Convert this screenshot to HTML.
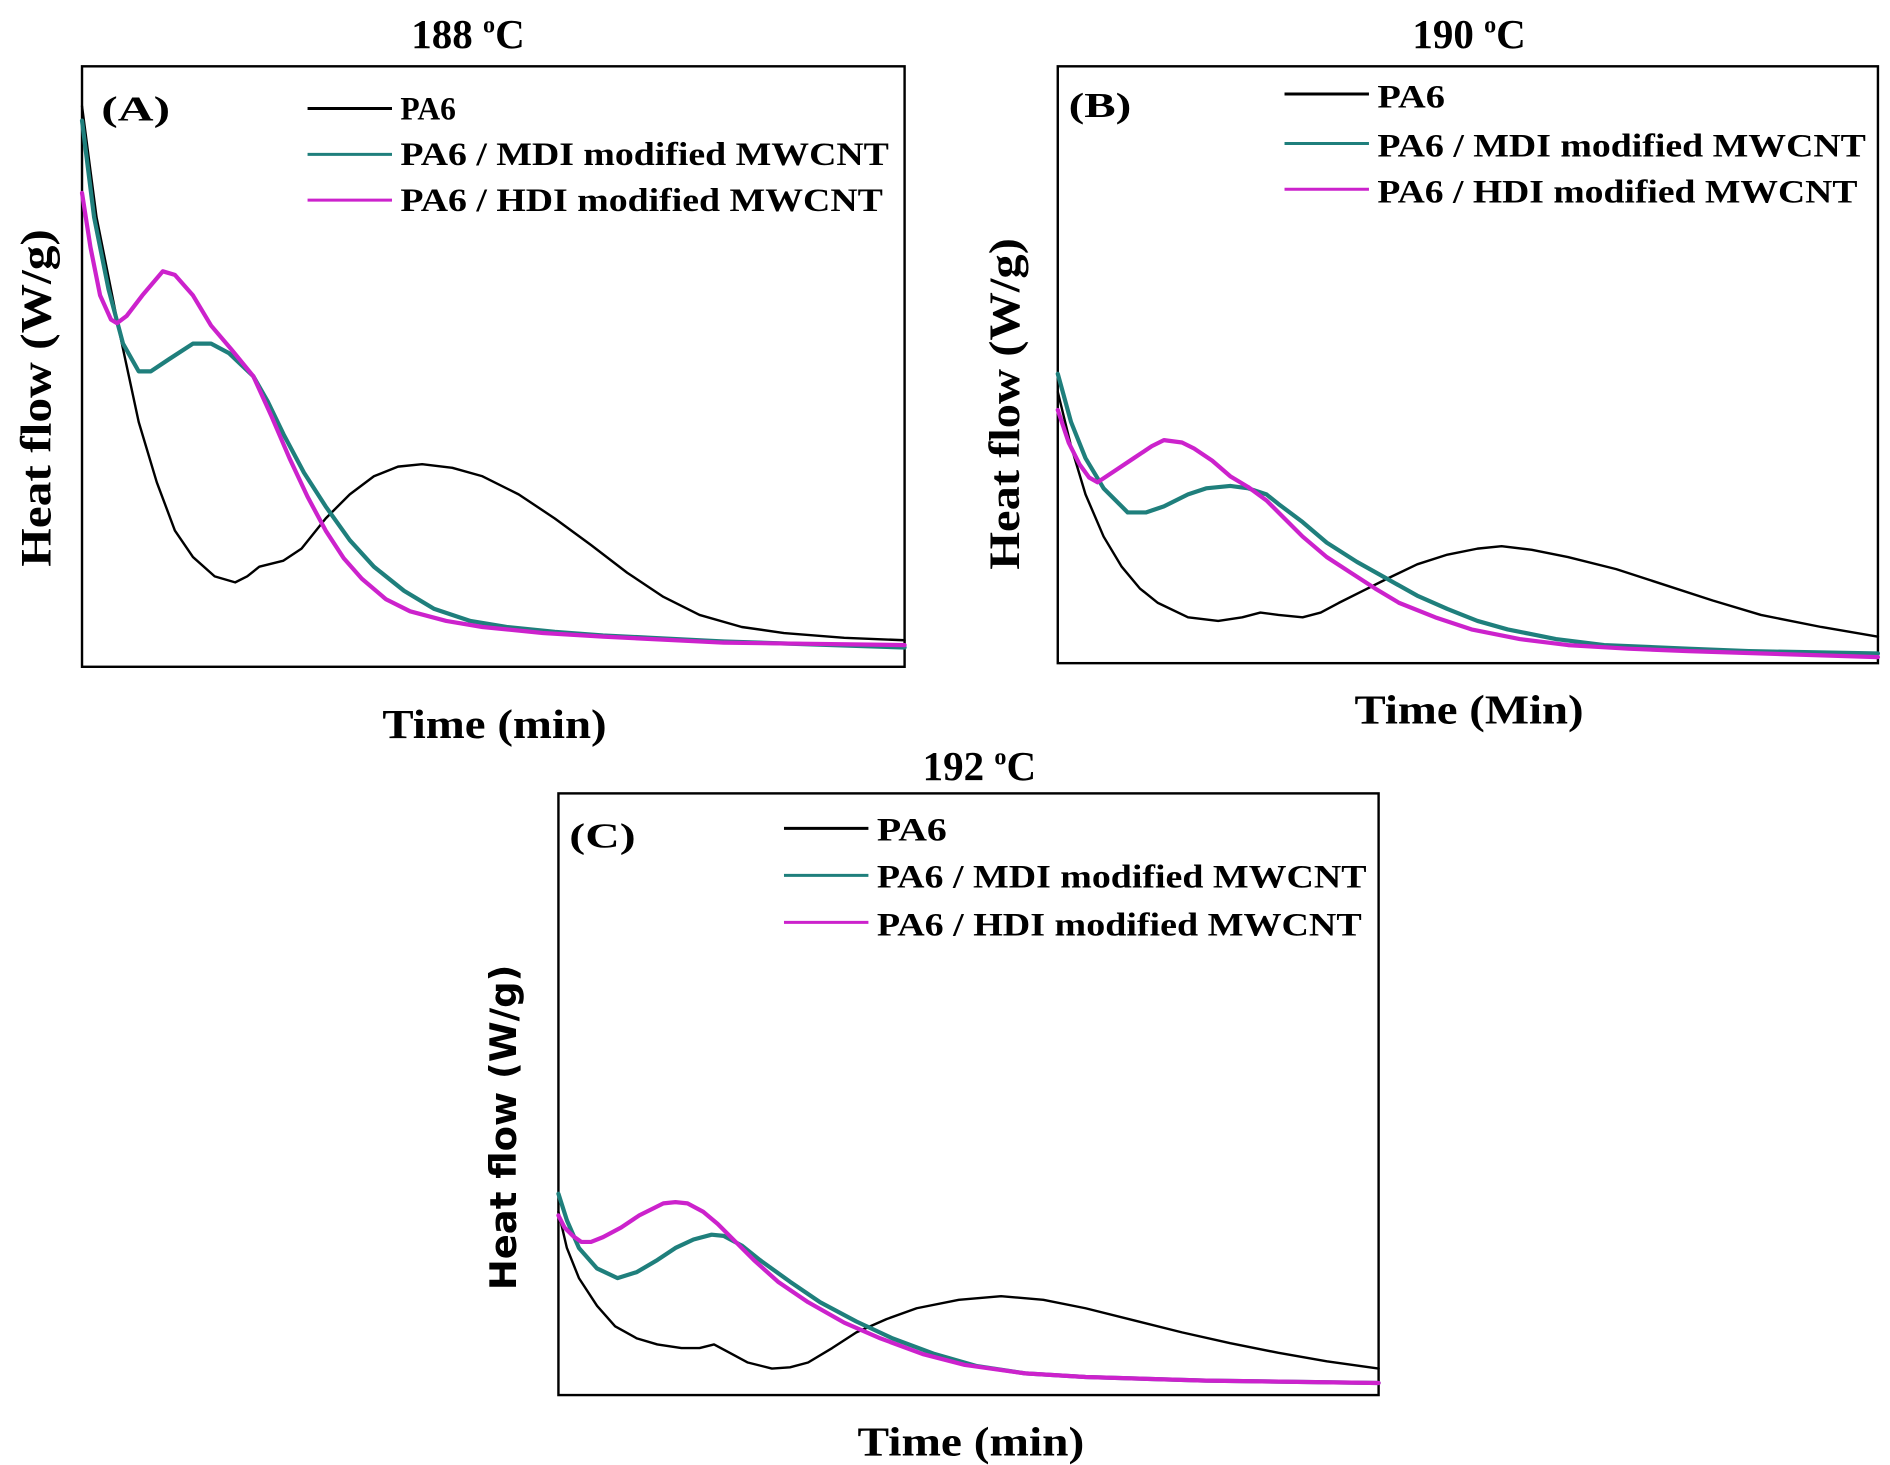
<!DOCTYPE html>
<html><head><style>html,body{margin:0;padding:0;background:#fff}svg{display:block}</style></head>
<body>
<svg width="1890" height="1465" viewBox="0 0 1567 1215" preserveAspectRatio="none" xmlns="http://www.w3.org/2000/svg" font-family="Liberation Serif, serif" font-weight="bold">
<g fill="none" stroke-width="2">
<rect x="68" y="55" width="682" height="498" stroke="#000"/>
<rect x="877" y="55" width="680" height="495" stroke="#000"/>
<rect x="463" y="658" width="680" height="499" stroke="#000"/>
</g>
<g fill="none" stroke-linejoin="round" stroke-linecap="round">
<polyline stroke="#000" stroke-width="2" points="68,88 80,180 100,280 115,350 130,400 145,440 160,462 178,478 195,483 205,478 215,470 235,465 250,455 270,430 290,410 310,395 330,387 350,385 375,388 400,395 430,410 460,430 490,452 520,475 550,495 580,510 615,520 650,525 700,529 750,531"/>
<polyline stroke="#1f7f7c" stroke-width="3.5" points="68,100 78,180 90,240 102,285 115,308 125,308 140,298 160,285 175,285 190,293 210,312 222,333 235,360 252,392 270,420 290,448 310,470 335,490 360,505 390,515 420,520 460,524 500,527 600,532 750,537"/>
<polyline stroke="#cc22cc" stroke-width="3.5" points="68,160 75,205 83,245 92,265 97,268 105,262 118,245 135,225 145,228 160,245 175,270 192,290 210,312 225,345 240,380 255,412 270,440 285,463 300,480 320,497 340,507 370,515 400,520 450,525 500,528 600,533 750,535"/>
<polyline stroke="#000" stroke-width="2" points="877,325 888,370 900,410 915,445 930,470 945,488 960,500 985,512 1010,515 1030,512 1045,508 1060,510 1080,512 1095,508 1110,500 1130,490 1150,480 1175,468 1200,460 1225,455 1245,453 1270,456 1300,462 1340,472 1380,485 1420,498 1460,510 1510,520 1557,528"/>
<polyline stroke="#1f7f7c" stroke-width="3.5" points="877,310 888,350 900,380 915,405 935,425 950,425 965,420 985,410 1000,405 1020,403 1035,405 1050,410 1060,418 1080,433 1100,450 1125,466 1150,480 1175,494 1200,505 1225,515 1250,522 1290,530 1330,535 1400,538 1450,540 1557,542"/>
<polyline stroke="#cc22cc" stroke-width="3.5" points="877,340 886,367 895,385 903,396 910,400 925,390 940,380 955,370 965,365 980,367 990,372 1005,382 1020,395 1035,404 1050,415 1065,430 1080,445 1100,462 1120,475 1140,488 1160,500 1190,512 1220,522 1260,530 1300,535 1350,538 1400,540 1557,545"/>
<polyline stroke="#000" stroke-width="2" points="463,1005 470,1035 480,1060 495,1083 510,1100 528,1110 545,1115 565,1118 580,1118 592,1115 605,1122 620,1130 640,1135 655,1134 670,1130 690,1118 710,1105 735,1094 760,1085 795,1078 830,1075 865,1078 900,1085 940,1095 980,1105 1020,1114 1060,1122 1100,1129 1143,1135"/>
<polyline stroke="#1f7f7c" stroke-width="3.5" points="463,990 470,1012 480,1035 495,1052 512,1060 528,1055 545,1045 560,1035 575,1028 590,1024 600,1025 615,1033 630,1045 655,1063 680,1080 710,1096 740,1110 775,1123 810,1133 850,1139 900,1142 1000,1145 1143,1147"/>
<polyline stroke="#cc22cc" stroke-width="3.5" points="463,1008 468,1018 475,1025 482,1030 490,1030 500,1026 515,1018 530,1008 550,998 560,997 570,998 583,1005 595,1015 610,1030 625,1045 645,1063 670,1080 700,1097 730,1110 765,1123 800,1132 850,1139 900,1142 1000,1145 1143,1147"/>
</g>
<g stroke-width="2.5">
<line x1="255" y1="90" x2="325" y2="90" stroke="#000"/>
<line x1="255" y1="128" x2="325" y2="128" stroke="#1f7f7c"/>
<line x1="255" y1="166" x2="325" y2="166" stroke="#cc22cc"/>
<line x1="1065" y1="78" x2="1135" y2="78" stroke="#000"/>
<line x1="1065" y1="119" x2="1135" y2="119" stroke="#1f7f7c"/>
<line x1="1065" y1="157" x2="1135" y2="157" stroke="#cc22cc"/>
<line x1="650" y1="687" x2="720" y2="687" stroke="#000"/>
<line x1="650" y1="726" x2="720" y2="726" stroke="#1f7f7c"/>
<line x1="650" y1="765" x2="720" y2="765" stroke="#cc22cc"/>
</g>
<g font-size="27" fill="#000" lengthAdjust="spacingAndGlyphs">
<text x="332" y="99" textLength="46" lengthAdjust="spacingAndGlyphs">PA6</text>
<text x="332" y="137" textLength="405" lengthAdjust="spacingAndGlyphs">PA6 / MDI modified MWCNT</text>
<text x="332" y="175" textLength="400" lengthAdjust="spacingAndGlyphs">PA6 / HDI modified MWCNT</text>
<text x="1142" y="89" textLength="56" lengthAdjust="spacingAndGlyphs">PA6</text>
<text x="1142" y="130" textLength="405" lengthAdjust="spacingAndGlyphs">PA6 / MDI modified MWCNT</text>
<text x="1142" y="168" textLength="398" lengthAdjust="spacingAndGlyphs">PA6 / HDI modified MWCNT</text>
<text x="727" y="697" textLength="58" lengthAdjust="spacingAndGlyphs">PA6</text>
<text x="727" y="736" textLength="406" lengthAdjust="spacingAndGlyphs">PA6 / MDI modified MWCNT</text>
<text x="727" y="776" textLength="402" lengthAdjust="spacingAndGlyphs">PA6 / HDI modified MWCNT</text>
</g>
<g font-size="29" fill="#000">
<text x="84" y="100" textLength="57" lengthAdjust="spacingAndGlyphs">(A)</text>
<text x="886" y="97" textLength="52" lengthAdjust="spacingAndGlyphs">(B)</text>
<text x="472" y="703" textLength="55" lengthAdjust="spacingAndGlyphs">(C)</text>
</g>
<g font-size="34" fill="#000" text-anchor="middle">
<text x="388" y="40">188 <tspan font-size="20" dy="-13">o</tspan><tspan dy="13">C</tspan></text>
<text x="1218" y="40">190 <tspan font-size="20" dy="-13">o</tspan><tspan dy="13">C</tspan></text>
<text x="812" y="647">192 <tspan font-size="20" dy="-13">o</tspan><tspan dy="13">C</tspan></text>
<text x="410" y="612" textLength="186" lengthAdjust="spacingAndGlyphs">Time (min)</text>
<text x="1218" y="600" textLength="190" lengthAdjust="spacingAndGlyphs">Time (Min)</text>
<text x="805" y="1207" textLength="188" lengthAdjust="spacingAndGlyphs">Time (min)</text>
<text font-size="36" transform="translate(42,330) rotate(-90)" textLength="280" lengthAdjust="spacingAndGlyphs">Heat flow (W/g)</text>
<text font-size="36" transform="translate(845,335) rotate(-90)" textLength="275" lengthAdjust="spacingAndGlyphs">Heat flow (W/g)</text>
<text font-family="DejaVu Sans, sans-serif" font-size="30" transform="translate(428,935) rotate(-90)" textLength="270" lengthAdjust="spacingAndGlyphs">Heat flow (W/g)</text>
</g>
</svg>
</body></html>
